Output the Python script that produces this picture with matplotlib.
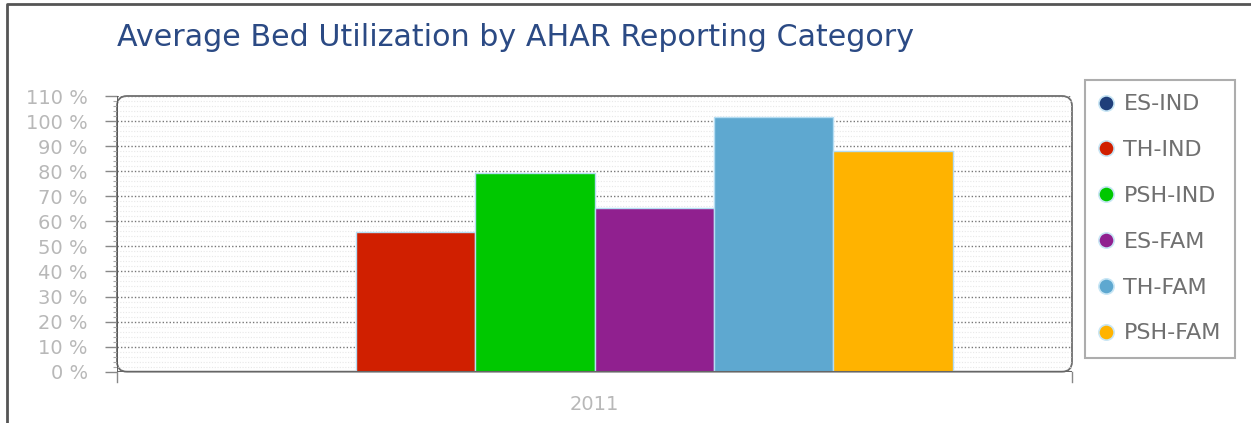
import matplotlib
matplotlib.use("Agg")
import matplotlib.pyplot as plt
from matplotlib.lines import Line2D
from matplotlib.patches import FancyBboxPatch
import matplotlib.transforms as mtransforms
from matplotlib.ticker import MultipleLocator, FuncFormatter

# ---- data ----
categories = ["2011"]
series_names = ["ES-IND", "TH-IND", "PSH-IND", "ES-FAM", "TH-FAM", "PSH-FAM"]
series_values = [0.0, 55.6, 79.3, 65.5, 101.6, 87.9]
series_colors = ["#1F3E7A", "#D01F00", "#00C800", "#90208F", "#5EA8D0", "#FFB300"]
title = "Average Bed Utilization by AHAR Reporting Category"

W, H = 1251, 423
fig = plt.figure(figsize=(W / 100, H / 100), dpi=100)
fig.patch.set_facecolor("white")
px = mtransforms.Affine2D().scale(1 / W, 1 / H) + fig.transFigure

# outer border (top & left)
fig.add_artist(Line2D([7, 7, W], [0, H - 4, H - 4], transform=px, color="#555555", lw=2))

ax = fig.add_axes([117 / W, (H - 371.7) / H, (1072 - 117) / W, (371.7 - 96) / H])
ax.set_facecolor("none")
for s in ax.spines.values():
    s.set_visible(False)

# rounded frame
frame = FancyBboxPatch((117, H - 371.7), 1072 - 117, 371.7 - 96,
                       boxstyle="round,pad=0,rounding_size=10",
                       transform=px, fill=False, edgecolor="#6E6E6E", lw=1.3, zorder=0)
fig.add_artist(frame)

ngroups = len(series_values)
group_w = 0.75
bw = group_w / ngroups
for i, (name, v, c) in enumerate(zip(series_names, series_values, series_colors)):
    x = -group_w / 2 + bw * (i + 0.5)
    ax.bar(x, v, width=bw, color=c, edgecolor="#B5DDF3", linewidth=1.0, zorder=3)

ax.set_xlim(-0.5, 0.5)
ax.set_ylim(0, 110)
ax.yaxis.set_major_locator(MultipleLocator(10))
ax.yaxis.set_minor_locator(MultipleLocator(2))
ax.yaxis.set_major_formatter(FuncFormatter(lambda v, p: f"{int(round(v))} %"))
ax.grid(axis="y", which="major", color="#777777", linestyle=(0, (1, 1.5)), lw=1.0, zorder=1)
ax.grid(axis="y", which="minor", color="#E8E8E8", linestyle=(0, (1, 1.5)), lw=0.8, zorder=1)
ax.tick_params(axis="y", which="major", length=9, width=1, color="#888888",
               labelsize=14, labelcolor="#B8B8B8", pad=12)
ax.tick_params(axis="y", which="minor", length=3, width=0.8, color="#AAAAAA")
ax.set_xticks([0])
ax.set_xticklabels(categories)
ax.tick_params(axis="x", length=0, labelsize=14, labelcolor="#B8B8B8", pad=17)
ax.axvline(-0.5, color="#555555", lw=1.3, zorder=4)
ax.axhline(0, color="#666666", lw=1.5, zorder=4)
# bottom end ticks
ax.plot([-0.5, -0.5], [0, -4], color="#888888", lw=1, clip_on=False)
ax.plot([0.5, 0.5], [0, -4], color="#888888", lw=1, clip_on=False)

fig.text(117 / W, 1 - 38 / H, title, ha="left", va="center", fontsize=21.7,
         color="#2B4A84", fontfamily="DejaVu Sans")

handles = [Line2D([], [], marker="o", linestyle="none", markersize=11,
                  markerfacecolor=c, markeredgecolor="#C8E6F5", markeredgewidth=1.2)
           for c in series_colors]
leg = fig.legend(handles, series_names, loc="upper left",
                 bbox_to_anchor=(1085 / W, 1 - 80 / H), frameon=True, fancybox=False,
                 fontsize=16, labelspacing=1.16, borderpad=0.65, handletextpad=0.48,
                 handlelength=0.6, borderaxespad=0)
leg.get_frame().set_edgecolor("#999999")
leg.get_frame().set_linewidth(1.5)
for t in leg.get_texts():
    t.set_color("#707070")

fig.savefig("out.png", dpi=100)
